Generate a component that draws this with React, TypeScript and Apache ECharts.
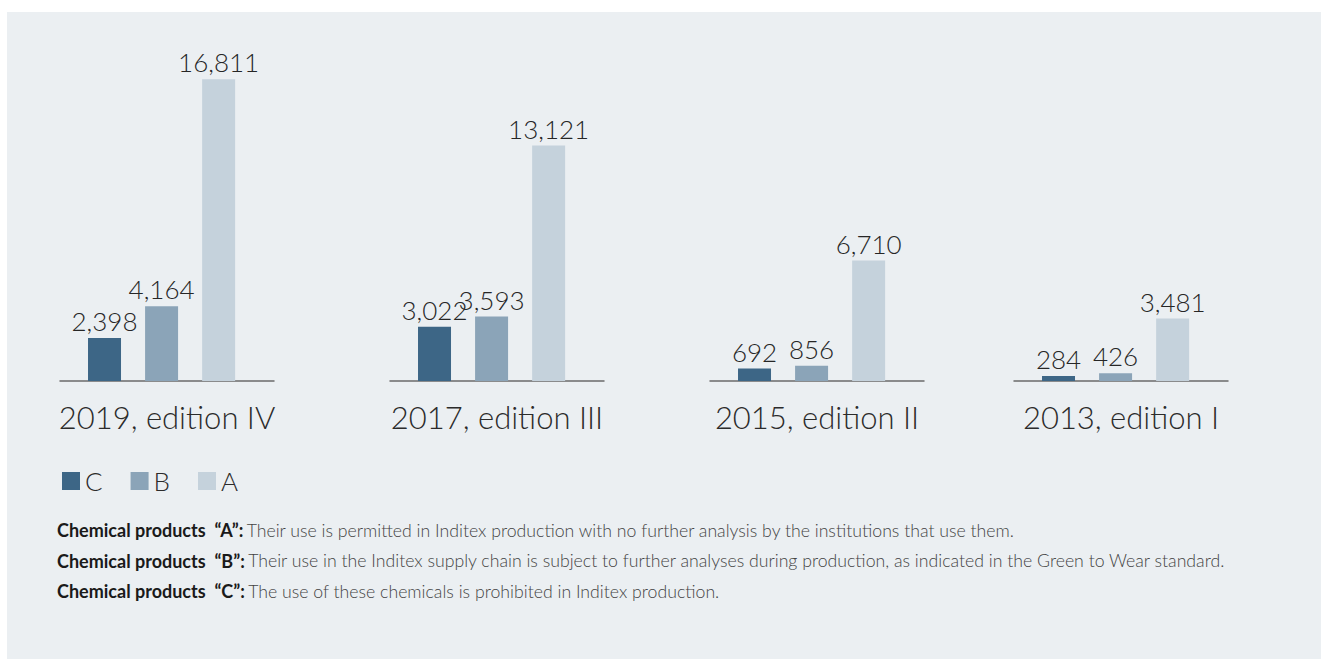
import React, { useEffect, useRef } from "react";
import * as echarts from "echarts";

const editions = ["2019, edition IV", "2017, edition III", "2015, edition II", "2013, edition I"];
const productTypes = ["C", "B", "A"];
const productsC = [2398, 3022, 692, 284];
const productsB = [4164, 3593, 856, 426];
const productsA = [16811, 13121, 6710, 3481];
const footnoteKeys = ["Chemical products  “A”:", "Chemical products  “B”:", "Chemical products  “C”:"];
const footnoteTexts = [
  "Their use is permitted in Inditex production with no further analysis by the institutions that use them.",
  "Their use in the Inditex supply chain is subject to further analyses during production, as indicated in the Green to Wear standard.",
  "The use of these chemicals is prohibited in Inditex production.",
];

const colors = ["#3d6686", "#8ba4b8", "#c5d2dc"];
const gridLefts = [60, 390, 710, 1014];
const FONT = "Lato, 'Open Sans', sans-serif";

export default function App() {
  const ref = useRef<HTMLDivElement>(null);
  useEffect(() => {
    if (!ref.current) return;
    const chart = echarts.init(ref.current, null, { renderer: "svg" });
    const valuesByType = [productsC, productsB, productsA];
    const grids = gridLefts.map((l) => ({ left: l, width: 214, top: 58, bottom: 279 }));
    const xAxes = editions.map((name, i) => ({
      type: "value" as const,
      gridIndex: i,
      min: -0.78,
      max: 2.97,
      name,
      nameLocation: "middle" as const,
      nameGap: 20,
      nameTextStyle: { fontFamily: FONT, fontSize: 31, fontWeight: 300, color: "#2b2b2b", verticalAlign: "top" },
      axisLine: { show: true, lineStyle: { color: "#6b6b6b", width: 1.5 } },
      axisTick: { show: false },
      axisLabel: { show: false },
      splitLine: { show: false },
    }));
    const yAxes = editions.map((_, i) => ({
      type: "value" as const,
      gridIndex: i,
      min: 0,
      max: 18000,
      show: false,
      splitLine: { show: false },
    }));
    const series: any[] = [];
    editions.forEach((_, g) => {
      productTypes.forEach((t, k) => {
        series.push({
          type: "bar",
          name: t,
          xAxisIndex: g,
          yAxisIndex: g,
          barWidth: 33,
          barGap: "-100%",
          data: [[k, valuesByType[k][g]]],
          itemStyle: { color: colors[k] },
          label: {
            show: true,
            position: "top",
            distance: 4,
            formatter: (p: any) => Number(p.value[1]).toLocaleString("en-US"),
            fontFamily: FONT,
            fontSize: 26,
            fontWeight: 300,
            color: "#262626",
          },
        });
      });
    });
    const footnotes = footnoteKeys.map((k, i) => ({
      type: "text" as const,
      left: 57,
      top: 521 + i * 30.5,
      style: {
        text: `{b|${k}} {r|${footnoteTexts[i]}}`,
        rich: {
          b: { fontFamily: FONT, fontSize: 18, fontWeight: "bold", fill: "#1a1a1a" },
          r: { fontFamily: FONT, fontSize: 17.7, fontWeight: 300, fill: "#444444" },
        },
      },
    }));
    chart.setOption({
      animation: false,
      backgroundColor: "#ffffff",
      graphic: [
        { type: "rect", left: 7, top: 12, shape: { width: 1314, height: 647 }, style: { fill: "#ebeff2" }, z: -10 },
        ...footnotes,
      ],
      legend: {
        data: productTypes,
        left: 57,
        top: 463,
        icon: "rect",
        itemWidth: 18,
        itemHeight: 18,
        itemGap: 28,
        textStyle: { fontFamily: FONT, fontSize: 26, fontWeight: 300, color: "#2b2b2b", padding: [0, 0, 0, 0] },
      },
      grid: grids,
      xAxis: xAxes,
      yAxis: yAxes,
      series,
    });
    return () => chart.dispose();
  }, []);
  return (
    <div
      ref={ref}
      style={{ position: "absolute", left: 0, top: 0, width: 1322, height: 660 }}
    />
  );
}
